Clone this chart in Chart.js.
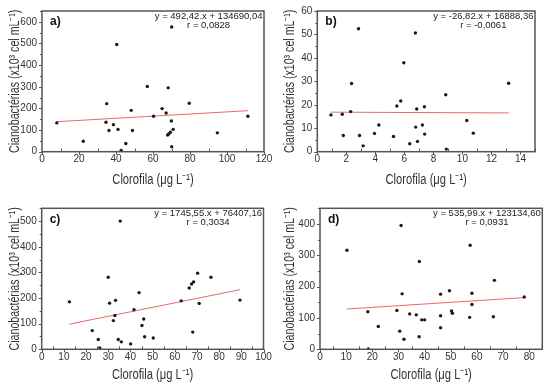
<!DOCTYPE html>
<html><head><meta charset="utf-8">
<script src="https://cdn.jsdelivr.net/npm/chart.js@4.4.1/dist/chart.umd.min.js"></script>
<style>
html,body{margin:0;padding:0;background:#fff;}
#wrap{position:relative;width:550px;height:386px;overflow:hidden;}
canvas{position:absolute;}
</style></head><body>
<div id="wrap">
<canvas id="ca" width="275" height="193" style="left:0;top:0"></canvas>
<canvas id="cb" width="275" height="193" style="left:275px;top:0"></canvas>
<canvas id="cc" width="275" height="193" style="left:0;top:193px"></canvas>
<canvas id="cd" width="275" height="193" style="left:275px;top:193px"></canvas>
</div>
<script>
// ---- data (Clorofila µg/L  vs  Cianobactérias x10^3 cel/mL) ----
const aX = [8.0, 22.3, 35.0, 34.6, 36.2, 38.6, 40.4, 41.1, 42.8, 45.3, 48.2, 48.9, 56.9, 60.3, 64.9, 67.1, 68.2, 70.1, 69.9, 70.9, 67.9, 68.5, 69.4, 70.1, 79.6, 94.8, 111.3];
const aY = [133, 48, 222, 136, 98, 125, 495, 103, 6, 38, 191, 98, 301, 164, 199, 179, 295, 576, 142, 103, 77, 82, 90, 23, 224, 87, 164];
const aLineX = [8.0, 111.3];
const aLineY = [138.6, 189.5];

const bX = [0.94, 1.72, 1.79, 2.84, 2.30, 2.36, 2.91, 3.16, 3.94, 4.24, 5.25, 5.48, 5.75, 5.96, 6.37, 6.76, 6.78, 6.85, 6.90, 7.24, 7.38, 7.40, 8.85, 8.89, 10.30, 10.75, 13.18];
const bY = [15.7, 16.0, 6.9, 52.4, 17.1, 29.1, 6.9, 2.5, 7.8, 11.4, 6.5, 19.5, 21.6, 37.9, 3.4, 50.6, 10.5, 18.2, 4.4, 11.4, 19.2, 7.5, 24.3, 1.1, 13.3, 7.9, 29.2];
const bLineX = [0.94, 13.18];
const bLineY = [16.86, 16.53];

const cX = [12.5, 22.8, 25.5, 26.2, 30.0, 30.6, 33.3, 32.3, 33.0, 34.5, 35.4, 35.9, 40.1, 41.6, 43.9, 45.2, 46.0, 46.4, 50.3, 62.9, 66.5, 67.6, 68.5, 70.3, 71.0, 68.1, 76.3, 89.4];
const cY = [185, 73, 38, 5, 281, 180, 191, 112, 132, 38, 500, 29, 21, 154, 221, 93, 118, 49, 44, 189, 239, 255, 263, 297, 179, 67, 281, 192];
const cLineX = [12.5, 89.4];
const cLineY = [98.2, 232.5];

const dX = [10.3, 18.3, 18.5, 22.3, 29.4, 30.5, 31.0, 31.4, 32.1, 34.3, 36.8, 37.9, 38.0, 38.9, 40.0, 46.1, 46.1, 46.1, 49.5, 50.3, 50.6, 57.4, 57.2, 58.1, 58.1, 66.3, 66.7, 78.1];
const dY = [316, 120, 1, 73, 124, 58, 395, 177, 32, 113, 110, 40, 280, 94, 94, 176, 107, 69, 187, 122, 115, 332, 102, 179, 143, 104, 220, 167];
const dLineX = [10.3, 78.1];
const dLineY = [128.7, 165.0];

const panelLabels = ['a)', 'b)', 'c)', 'd)'];
const equations = ['y = 492,42.x + 134690,04', 'y = -26,82.x + 16888,36', 'y = 1745,55.x + 76407,16', 'y = 535,99.x + 123134,60'];
const rValues = ['r = 0,0828', 'r = -0,0061', 'r = 0,3034', 'r = 0,0931'];
const xTitle = 'Clorofila (\u03bcg L\u207b\u00b9)';
const yTitle = 'Cianobact\u00e9rias (x10\u00b3 cel mL\u207b\u00b9)';

// ---- styling ----
const TICK_FONT = "'Liberation Sans', Arial, sans-serif";
const AXIS_COL = '#555';
const TEXT_COL = '#333';

const boxPlugin = {
  id: 'box',
  afterDraw(chart, args, o) {
    const {ctx, chartArea: {left, right, top, bottom}, scales: {x, y}} = chart;
    const H = chart.height;
    ctx.save();
    ctx.strokeStyle = AXIS_COL;
    ctx.lineWidth = 1;
    const xs = x.options.ticks.stepSize, ys = y.options.ticks.stepSize;
    ctx.beginPath();
    for (let v = x.min; v <= x.max + 1e-9; v += xs / 2) {
      const px = Math.round(x.getPixelForValue(v)) + 0.5;
      const major = Math.abs(Math.round(v / xs) * xs - v) < 1e-6;
      if (major) { ctx.moveTo(px, bottom); ctx.lineTo(px, bottom + 3); }
      else { ctx.moveTo(px, bottom); ctx.lineTo(px, bottom - 3); }
    }
    for (let v = y.min; v <= y.max + 1e-9; v += ys / 2) {
      const py = Math.round(y.getPixelForValue(v)) + 0.5;
      const major = Math.abs(Math.round(v / ys) * ys - v) < 1e-6;
      ctx.moveTo(left, py); ctx.lineTo(left - (major ? 3 : 2), py);
    }
    ctx.stroke();
    ctx.lineWidth = 1.5;
    ctx.strokeStyle = AXIS_COL;
    ctx.strokeRect(left, top, right - left, bottom - top);
    // panel label
    ctx.fillStyle = '#111';
    ctx.textBaseline = 'middle';
    ctx.textAlign = 'left';
    ctx.font = "bold 12px 'Liberation Sans', Arial, sans-serif";
    ctx.fillText(o.label, left + 8, top + 11);
    // equation
    ctx.fillStyle = '#222';
    ctx.font = "9.5px 'Liberation Sans', Arial, sans-serif";
    const w = ctx.measureText(o.eq).width;
    const cx = right - 1.5 - w / 2;
    ctx.textAlign = 'center';
    ctx.fillText(o.eq, cx, top + 5);
    ctx.fillText(o.r, cx, top + 14.5);
    // axis titles (condensed)
    ctx.fillStyle = TEXT_COL;
    ctx.font = "14px 'Liberation Sans', Arial, sans-serif";
    ctx.textAlign = 'center';
    ctx.textBaseline = 'middle';
    ctx.save();
    ctx.translate((left + right) / 2, H - o.xTitleOff);
    ctx.scale(0.8, 1);
    ctx.fillText(xTitle, 0, 0);
    ctx.restore();
    ctx.save();
    ctx.translate(15, (top + bottom) / 2);
    ctx.rotate(-Math.PI / 2);
    ctx.scale(0.76, 1);
    ctx.fillText(yTitle, 0, 0);
    ctx.restore();
    ctx.restore();
  }
};

function pts(xs, ys) { return xs.map((v, i) => ({x: v, y: ys[i]})); }

function makePanel(id, idx, xs, ys, lx, ly, xr, yr, box) {
  new Chart(document.getElementById(id), {
    type: 'scatter',
    data: {
      datasets: [
        {data: pts(xs, ys), pointRadius: 1.7, pointStyle: 'circle', backgroundColor: '#1a1a1a', borderWidth: 0},
        {data: pts(lx, ly), showLine: true, pointRadius: 0, borderColor: 'rgba(232,90,90,0.9)', borderWidth: 1}
      ]
    },
    options: {
      responsive: false,
      animation: false,
      events: [],
      layout: {padding: {top: box.top, right: 275 - box.right, left: 0, bottom: 0}},
      plugins: {
        legend: {display: false}, tooltip: {enabled: false},
        box: {label: panelLabels[idx], eq: equations[idx], r: rValues[idx], xTitleOff: box.xto}
      },
      scales: {
        x: {
          type: 'linear', min: xr[0], max: xr[1],
          afterFit: s => { s.height = 193 - box.bottom; },
          grid: {display: false, drawTicks: false}, border: {display: false},
          ticks: {stepSize: xr[2], includeBounds: false, padding: 1.5, color: TEXT_COL, maxRotation: 0,
                  font: {family: TICK_FONT, size: 10}}
        },
        y: {
          type: 'linear', min: yr[0], max: yr[1],
          afterFit: s => { s.width = box.left; },
          grid: {display: false, drawTicks: false}, border: {display: false},
          ticks: {stepSize: yr[2], includeBounds: false, padding: 5, color: TEXT_COL,
                  font: {family: TICK_FONT, size: 10}}
        }
      }
    },
    plugins: [boxPlugin]
  });
}

makePanel('ca', 0, aX, aY, aLineX, aLineY, [0, 120, 20], [0, 650, 100], {left: 42, right: 264, top: 9.5, bottom: 151.7, xto: 13});
makePanel('cb', 1, bX, bY, bLineX, bLineY, [0, 15, 2], [0, 60, 10], {left: 42.3, right: 260, top: 10, bottom: 151.7, xto: 13});
makePanel('cc', 2, cX, cY, cLineX, cLineY, [0, 100, 10], [0, 550, 100], {left: 41.7, right: 263.5, top: 15.3, bottom: 156.3, xto: 10.5});
makePanel('cd', 3, dX, dY, dLineX, dLineY, [0, 85, 10], [0, 450, 100], {left: 45, right: 267.3, top: 15.3, bottom: 156.3, xto: 11});
</script>
</body></html>
